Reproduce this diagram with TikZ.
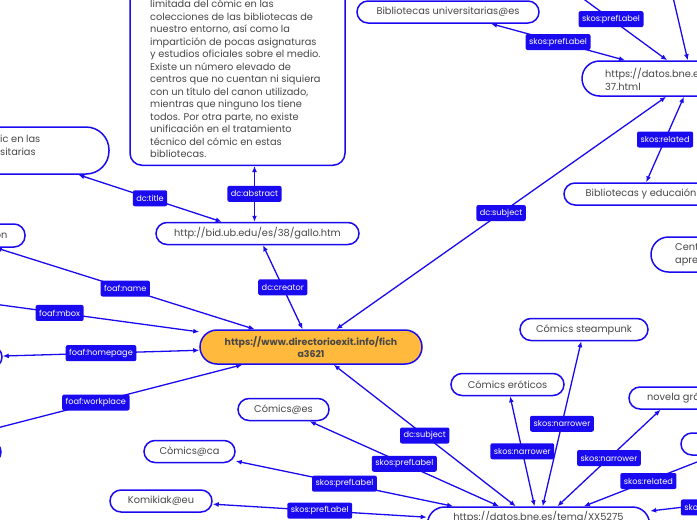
\documentclass[tikz,border=0pt]{standalone}
\usepackage{fontspec}
\setmainfont{Poppins}
\usetikzlibrary{arrows.meta,calc}
\definecolor{mblue}{HTML}{1A0AF0}
\definecolor{morange}{HTML}{FFBA3D}
\definecolor{mtext}{HTML}{474747}
\tikzset{
  pill/.style={rectangle, rounded corners=11pt, draw=mblue, line width=1.5pt, fill=white,
    minimum height=22pt, inner xsep=8pt, inner ysep=3pt, text=mtext,
    font=\fontsize{9.8}{12.5}\selectfont, align=center},
  txt/.style={inner sep=0pt, text=mtext, font=\fontsize{9.8}{12.5}\selectfont, align=left},
  lbl/.style={fill=mblue, text=white, rounded corners=2pt,
    font=\fontsize{8.2}{9}\selectfont, inner xsep=3.5pt, inner ysep=0pt, minimum height=16pt},
  conn/.style={draw=mblue, line width=1.3pt, <->, >={Latex[length=6pt,width=5pt]}},
}
\begin{document}
\begin{tikzpicture}[x=1pt,y=-1pt]
\useasboundingbox (0,0) rectangle (697,520);
\clip (0,0) rectangle (697,520);
% ---------- nodes
\node[draw=mblue, line width=1.5pt, rounded corners=12pt, fill=white,
  minimum width=215pt, minimum height=260pt, anchor=south] (A) at (237.5,166) {};
\node[txt, anchor=south west] (Atext) at (150,158) {limitada del cómic en las\\
colecciones de las bibliotecas de\\
nuestro entorno, así como la\\
impartición de pocas asignaturas\\
y estudios oficiales sobre el medio.\\
Existe un número elevado de\\
centros que no cuentan ni siquiera\\
con un título del canon utilizado,\\
mientras que ninguno los tiene\\
todos. Por otra parte, no existe\\
unificación en el tratamiento\\
técnico del cómic en estas\\
bibliotecas.};

\node[pill, rounded corners=23pt, minimum width=209pt, minimum height=47pt] (T) at (4.5,150.5) {};
\node[txt, anchor=west] (Ttext) at (0,145.5) {ic en las\\sitarias};

\node[pill, minimum width=136pt, minimum height=23pt] (N) at (-43,235.5) {};
\node[txt, anchor=east] (Ntext) at (7.5,236) {on};

\node[pill, minimum width=64pt] (H) at (-30,357) {};
\node[pill, minimum width=194pt] (W) at (-96,452) {};
\coordinate (M) at (-80,294);

\node[pill, minimum width=203pt] (G) at (257.5,233.5) {http://bid.ub.edu/es/38/gallo.htm};
\node[pill, rounded corners=17pt, fill=morange, minimum width=222pt, minimum height=34pt, font=\fontsize{9.4}{12.5}\selectfont\bfseries] (C) at (311,347) {https://www.directorioexit.info/fich\\a3621};

\node[pill, rounded corners=17.5pt, minimum width=220pt, minimum height=35pt] (D) at (692,78.5) {};
\node[txt, anchor=west] (Dtext) at (605,79.5) {https://datos.bne.e\\37.html};
\node[pill, minimum width=182pt] (B) at (448,12) {Bibliotecas universitarias@es};
\node[pill, minimum width=154pt] (BE) at (641,194) {Bibliotecas y educaión};
\node[pill, rounded corners=17.5pt, minimum width=200pt, minimum height=35pt] (CN) at (751,254.5) {};
\node[txt, anchor=west] (CNtext) at (675,255) {Cent\\apre};
\coordinate (Y) at (555,-22);
\coordinate (Z) at (655,-80);

\node[pill, rounded corners=17pt, minimum width=222pt, minimum height=34pt] (X) at (538.5,524) {https://datos.bne.es/tema/XX5275\\\strut};
\node[pill, minimum width=91pt] (CE) at (283.5,409.5) {Cómics@es};
\node[pill, minimum width=91pt] (CC) at (189.5,451.5) {Còmics@ca};
\node[pill, minimum width=102pt] (K) at (161,501) {Komikiak@eu};
\node[pill, minimum width=113pt] (ER) at (507.5,384.5) {Cómics eróticos};
\node[pill, minimum width=128pt] (ST) at (584,329.5) {Cómics steampunk};
\node[pill, minimum width=88pt] (NO) at (673,398) {};
\node[txt, anchor=west] (NOtext) at (647,398) {novela grá};
\node[pill, minimum width=124pt] (R) at (743,444) {};
\coordinate (Q) at (770,497);

% ---------- connectors
\draw[conn] (G) -- node[lbl]{dc:creator} (C);
\draw[conn] ($(G.north)+(-3,0)$) -- node[lbl]{dc:abstract} ($(G.north |- A.south)+(-3,0)$);
\draw[conn] (G) -- node[lbl]{dc:title} (T);
\draw[conn] (C) -- node[lbl]{foaf:name} (N);
\draw[conn] (C) -- node[lbl]{foaf:mbox} (M);
\draw[conn] (C) -- node[lbl]{foaf:homepage} (H);
\draw[conn] (C) -- node[lbl]{foaf:workplace} (W);
\draw[conn] (C) -- node[lbl]{dc:subject} (D);
\draw[conn] (D) -- node[lbl]{skos:prefLabel} (B);
\draw[conn] (D) -- node[lbl]{skos:prefLabel} (Y);
\draw[conn] (D) -- (Z);
\draw[conn] (D) -- node[lbl]{skos:related} (BE);
\draw[conn] (C) -- node[lbl]{dc:subject} (X);
\draw[conn] (X) -- node[lbl]{skos:prefLabel} (CE);
\draw[conn] (X) -- node[lbl]{skos:prefLabel} (CC);
\draw[conn] (X) -- node[lbl]{skos:prefLabel} (K);
\draw[conn] (X) -- node[lbl]{skos:narrower} (ER);
\draw[conn] (X) -- node[lbl]{skos:narrower} (ST);
\draw[conn] (X) -- node[lbl]{skos:narrower} (NO);
\draw[conn] (X) -- node[lbl]{skos:related} (R);
\draw[conn] (X) -- node[lbl, pos=0.25, anchor=west]{skos:} (Q);
\end{tikzpicture}
\end{document}
